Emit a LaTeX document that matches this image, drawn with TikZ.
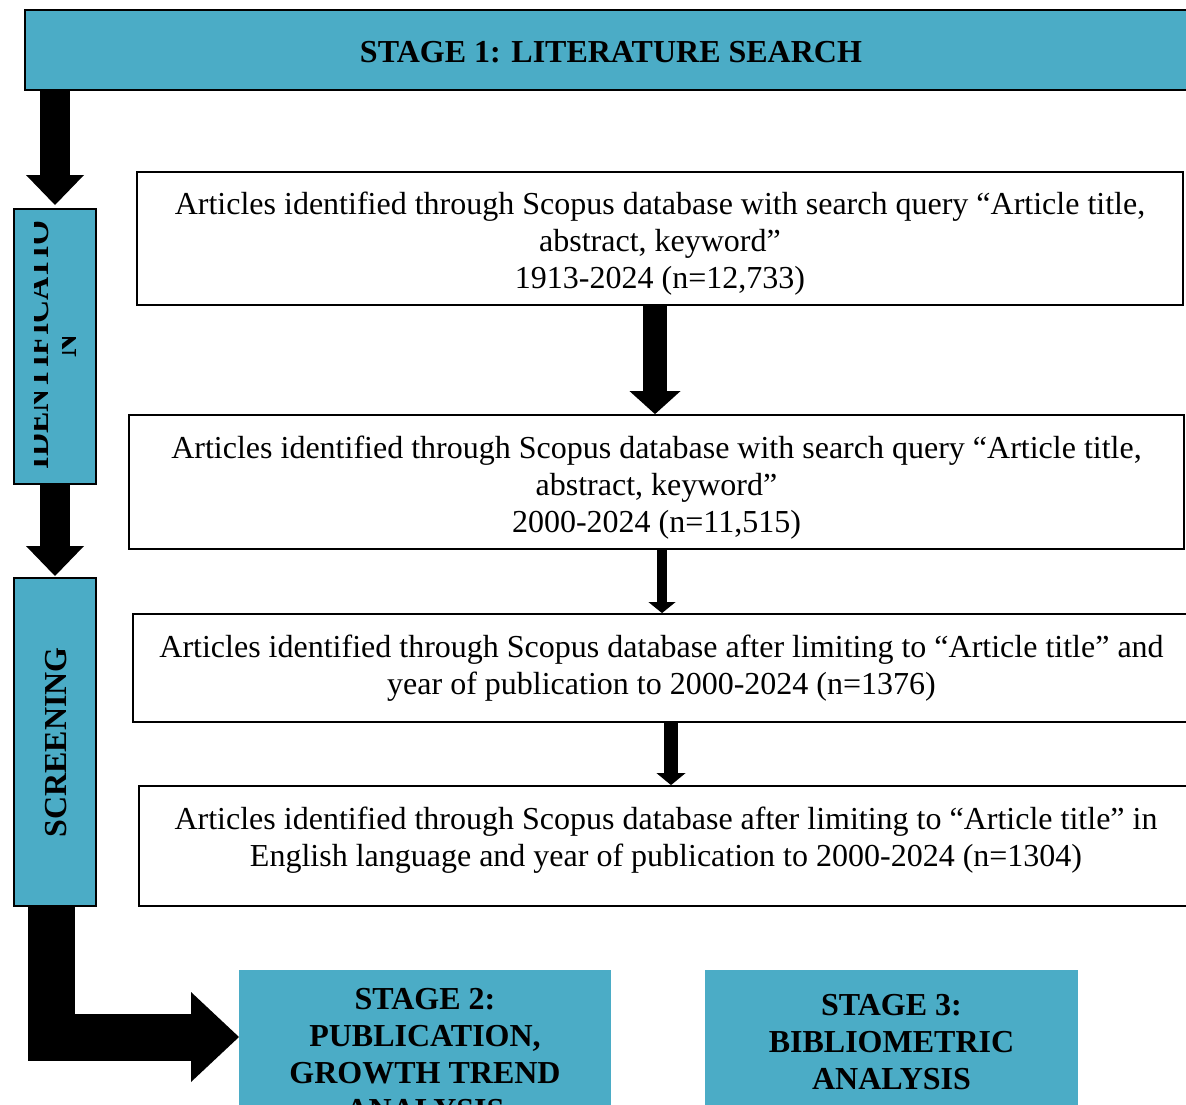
\documentclass[tikz,border=0pt]{standalone}
\usepackage{fontspec}
\setmainfont{Liberation Serif}
\usetikzlibrary{arrows.meta,calc}
\definecolor{stageblue}{HTML}{4BACC6}
\tikzset{
  bluebox/.style={draw=black, line width=2pt, fill=stageblue, inner sep=0pt},
  stagebox/.style={fill=stageblue, inner sep=0pt, align=center, font=\fontsize{32}{37}\selectfont\bfseries},
  wbox/.style={draw=black, line width=1.8pt, fill=white, inner sep=0pt, align=center, font=\fontsize{32}{37}\selectfont},
  wtext/.style={inner sep=0pt, align=center, font=\fontsize{32}{37}\selectfont},
  sidetext/.style={inner sep=0pt, rotate=90, font=\fontsize{32}{32}\selectfont\bfseries},
  blockarrow/.style n args={3}{line width=#1, line cap=butt, draw=black,
     -{Triangle[width=#2, length=#3, line width=0pt]}},
}
\begin{document}
\begin{tikzpicture}[x=1pt, y=-1pt]
\useasboundingbox (0,0) rectangle (1186,1105);
\clip (0,0) rectangle (1186,1105);

% stage boxes
\node[bluebox, minimum width=1172pt, minimum height=80pt] (stage1) at (611,50) {};
\node[wtext, font=\fontsize{32}{37}\selectfont\bfseries] (stage1t) at (611,52) {STAGE 1: LITERATURE SEARCH};

\node[bluebox, minimum width=82pt, minimum height=275pt] (ident) at (55,346.5) {};
\node[bluebox, minimum width=82pt, minimum height=328pt] (screen) at (55,742) {};
\node[sidetext] (screent) at (56,742.5) {SCREENING};

% clipped IDENTIFICATION text
\begin{scope}
  \clip (34,212) rectangle (48.5,482);
  \node[sidetext, anchor=base] (identt1) at (48,345) {IDENTIFICATIO};
\end{scope}
\begin{scope}
  \clip (62.5,212) rectangle (76.5,482);
  \node[sidetext, anchor=base] (identt2) at (76,346) {N};
\end{scope}

% white boxes
\node[wbox, minimum width=1046pt, minimum height=133pt] (b1) at (660,238.5) {};
\node[wtext] (b1t) at (660,244)
  {Articles identified through Scopus database with search query “Article title,\\abstract, keyword”\\1913-2024 (n=12,733)};
\node[wbox, minimum width=1055pt, minimum height=134pt] (b2) at (656.5,482) {};
\node[wtext] (b2t) at (656.5,487.5)
  {Articles identified through Scopus database with search query “Article title,\\abstract, keyword”\\2000-2024 (n=11,515)};
\node[wbox, minimum width=1057pt, minimum height=108pt] (b3) at (661.5,668)
  {Articles identified through Scopus database after limiting to “Article title” and\\year of publication to 2000-2024 (n=1376)};
\node[wbox, minimum width=1054pt, minimum height=120pt] (b4) at (666,846) {};
\node[wtext] (b4t) at (666,840)
  {Articles identified through Scopus database after limiting to “Article title” in\\English language and year of publication to 2000-2024 (n=1304)};

% bottom stages
\node[stagebox, minimum width=372pt, minimum height=169pt] (stage2) at (425,1054.5)
  {STAGE 2:\\PUBLICATION,\\GROWTH TREND\\ANALYSIS};
\node[stagebox, minimum width=373pt, minimum height=146pt] (stage3) at (891.5,1042.5)
  {STAGE 3:\\BIBLIOMETRIC\\ANALYSIS};
\coordinate (s2in) at (239,1037);

% block arrows
\draw[blockarrow={30pt}{58pt}{30pt}] (stage1.south -| ident.north) -- ([yshift=3pt]ident.north);
\draw[blockarrow={30pt}{58pt}{30pt}] (ident.south) -- ([yshift=1pt]screen.north);
\draw[blockarrow={24pt}{51pt}{23pt}] ([xshift=-5pt]b1.south) -- ([xshift=-1.5pt]b2.north);
\draw[blockarrow={10pt}{27pt}{11pt}] ([xshift=5.5pt]b2.south) -- ([xshift=0.5pt]b3.north);
\draw[blockarrow={14pt}{29pt}{12pt}] ([xshift=9.5pt]b3.south) -- ([xshift=5pt]b4.north);
\draw[blockarrow={47pt}{90pt}{48pt}, line join=miter] ([xshift=-4pt]screen.south) |- (s2in);
\end{tikzpicture}
\end{document}
